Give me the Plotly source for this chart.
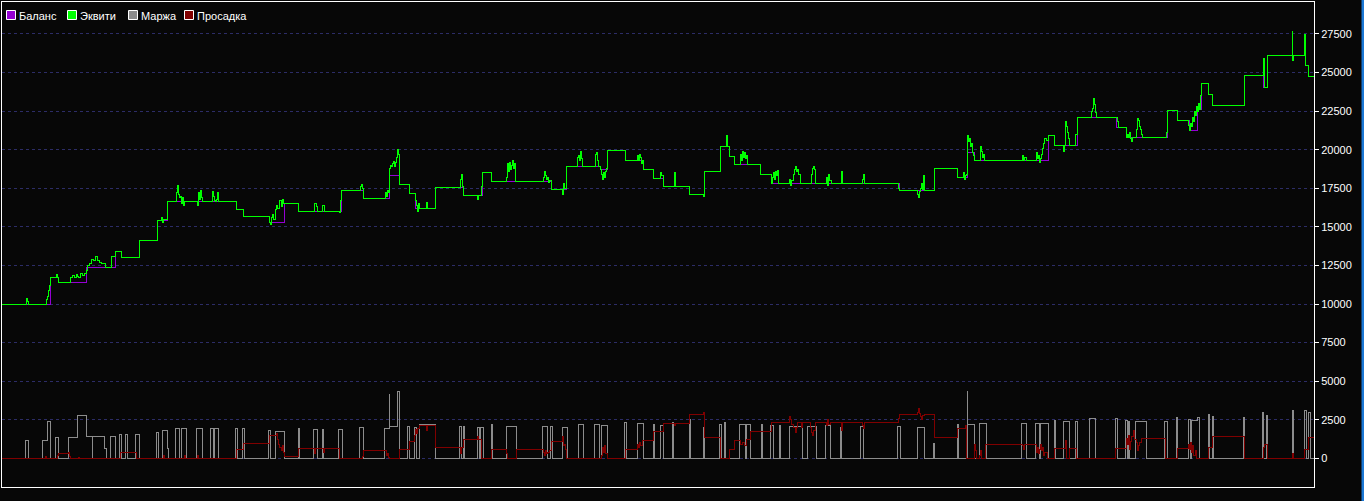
import plotly.graph_objects as go

# ---------------- data ----------------
series_names = ["Баланс", "Эквити", "Маржа", "Просадка"]
series_colors = ["#9400d3", "#00ff00", "#8c8c8c", "#800000"]

balance_pts = [(2,10000),(50,11750),(58,11400),(86,12380),(115,13400),(121,13030),(139,14140),(157,15390),
(167,16650),(236,16150),(243,15700),(269,15260),(284,16540),(298,16020),(341,17380),(363,16860),(389,18360),
(399,17770),(409,17190),(415,16220),(435,17580),(463,17060),(482,18550),(491,17970),(551,17450),(566,18940),
(600,18700),(607,19920),(625,19330),(643,18750),(653,18160),(663,17640),(689,17120),(704,18570),(720,20180),
(729,19590),(734,19010),(760,18420),(771,17840),(899,17340),(934,18810),(957,18230),(967,19790),(974,19270),
(1048,20950),(1054,20300),(1077,22060),(1116,21410),(1126,20760),(1167,22510),(1177,21870),(1189,21220),
(1197,22600),(1201,24280),(1208,23560),(1212,22840),(1244,24790),(1263,24010),(1267,26090),(1305,25480),
(1308,24720),(1314,24720)]

equity_pts = [(2,10000),(25,10000),(26,10350),(27,10150),(28,10000),
(44,10000),(45,9950),(46,10300),(47,10500),(48,10900),(49,11200),(50,11750),(55,11750),(56,11900),(57,11700),(58,11400),
(69,11400),(70,11700),(72,11850),(74,11750),(76,11900),(77,11800),(78,11700),(80,11950),(82,11850),(84,12000),(86,12200),
(87,12500),(89,12650),(91,12900),(93,12800),(95,13050),(97,12800),(99,12700),(101,12600),(103,12650),(105,12380),(111,13070),
(115,13400),(121,13030),(139,14140),(157,15390),(161,15600),(162,15300),(163,15500),(167,16650),
(175,16650),(176,17200),(177,17700),(178,17100),(179,16900),(180,17000),(181,16500),(182,16900),(183,16400),(184,16650),
(196,16650),(197,16400),(198,17200),(199,16800),(200,17350),(201,16900),(202,16650),
(211,16650),(212,17300),(213,17000),(214,16700),(215,16650),(216,16800),(217,17250),(218,16650),
(236,16150),(243,15700),(269,15260),(270,15150),(271,15600),(272,15800),(273,15500),(275,16100),(276,16400),(277,16200),
(279,16700),(281,16300),(282,16800),(283,16500),(284,16540),(298,16020),
(313,16020),(314,16540),(316,16300),(317,16020),(322,16400),(324,16020),(338,16020),(339,15900),(340,16700),(341,17380),
(359,17380),(360,17600),(361,17750),(362,17500),(363,16860),
(384,16860),(385,17200),(386,17000),(387,17350),(388,17200),(389,18800),(390,19000),(391,18900),(392,19100),(393,19250),
(394,18900),(395,19200),(396,19500),(397,20000),(398,19700),(399,17770),(409,17190),(415,16700),(416,16400),(417,16000),
(418,16500),(419,16220),(425,16220),(426,16600),(427,16220),(435,17580),(459,17580),(460,18100),(461,18380),(462,17600),
(463,17060),(476,17060),(477,16800),(478,17060),(481,17600),(482,18550),(491,17970),
(505,17970),(506,18200),(507,19100),(508,18600),(509,19200),(510,18700),(511,19000),(512,19300),(513,18800),(514,19100),(515,17970),
(542,17970),(543,18200),(544,18600),(545,18300),(546,18100),(547,18200),(548,17900),(549,18000),(551,17450),(561,17450),
(562,17100),(563,17800),(564,17500),(566,18940),
(576,18940),(577,19500),(578,19600),(579,19300),(580,19900),(581,19400),(582,18940),(594,18940),(595,19700),(596,19800),
(597,19300),(598,18940),(600,18700),(601,18400),(602,18100),(603,18500),(604,18200),(605,18600),(606,18800),(607,19920),(625,19330),
(636,19330),(637,19600),(638,19300),(639,19700),(640,19500),(641,19100),(642,19330),(643,18750),(653,18160),(659,18160),
(660,18500),(661,18300),(663,17640),(673,17640),(674,18500),(675,17640),(689,17120),(702,17120),(703,16950),(704,18570),
(720,20180),(725,20180),(726,20900),(727,20180),(729,19590),(734,19010),
(739,19010),(740,19700),(741,19300),(742,19900),(743,19500),(744,19800),(745,19400),(746,19600),(747,19010),(760,18420),
(771,17840),(772,18200),(773,18500),(774,18100),(775,18600),(776,18300),(777,18650),(778,17840),
(788,17840),(789,18100),(790,17700),(791,18000),(793,18400),(794,18700),(795,18900),(796,18600),(797,18700),(798,18400),(800,17840),
(810,17840),(811,18400),(812,18800),(813,18900),(814,18700),(815,17840),
(825,17840),(826,18200),(827,17700),(828,18400),(829,18000),(831,17840),
(840,17840),(841,18600),(842,17840),(861,17840),(862,18100),(863,18400),(864,17840),
(897,17840),(898,17500),(899,17340),(916,17340),(917,17100),(918,16900),(919,17300),(920,17500),(921,17800),(922,17400),
(923,18300),(924,17340),(934,18810),(957,18230),
(962,18230),(963,18500),(964,18100),(965,18300),(966,18400),(967,20900),(968,20500),(969,20700),(970,20200),(971,20400),
(972,19800),(973,19600),(974,19270),
(979,19270),(980,20200),(981,19900),(982,19500),(983,19700),(984,19300),(986,19270),
(1021,19270),(1022,19600),(1023,19300),(1024,19500),(1026,19270),
(1035,19270),(1036,19800),(1037,19400),(1038,19600),(1039,19200),(1040,19400),(1041,19700),(1042,20100),(1043,20400),
(1044,20700),(1046,20600),(1048,20950),(1054,20300),
(1062,20300),(1063,19870),(1064,20300),(1065,21800),(1066,21500),(1067,21100),(1068,20700),(1069,20300),(1075,21000),(1077,22060),
(1090,22060),(1091,22500),(1092,22700),(1093,23300),(1094,22900),(1095,22400),(1096,22060),(1116,22060),(1117,21800),
(1118,21410),(1126,20760),
(1127,21000),(1128,20800),(1129,21100),(1130,20700),(1131,20500),(1132,20760),
(1135,20760),(1136,21300),(1137,22000),(1138,21900),(1139,21500),(1140,21300),(1141,21000),(1142,20800),(1143,20760),
(1165,20760),(1166,21100),(1167,22510),(1177,21870),(1187,21870),(1188,21600),(1189,21220),
(1190,21700),(1191,21500),(1192,22100),(1193,21800),(1194,22500),(1195,22200),(1196,22800),(1197,22500),(1198,23000),
(1199,22600),(1200,23500),(1201,24280),(1208,23560),(1212,22840),
(1243,22840),(1244,24790),(1262,24790),(1263,25890),(1264,24010),(1267,26090),
(1291,26090),(1292,27650),(1292.5,25800),(1293,26090),(1304,27470),(1305,25480),(1308,24720),(1314,24720)]

# margin blocks: (start, end, value)
margin_blocks = [(25,28,1170),(42,47,1170),(47,50,2400),(55,58,1360),(68,77,1360),(77,86,2750),(86,92,1430),
(92.3,104,1430),(104,106,650),(110,115,1430),(119,121,1560),(125,127,1560),(135,139,1560),(156,158,1690),
(162,167,1820),(167,168,650),(175,179,1950),(181,186,1950),(196,202,1950),(210,213,1950),(214,218,1950),
(235,237,1950),(242,244,1950),(268,270,1820),(275,284,1750),(298,299,1950),(313,317,1880),(322,323,1880),
(338,342,1880),(359,363,2010),(384,389,1950),(389,389.6,4110),(389.6,397,2080),(397,399,4350),(407,409,2080),
(414,416,2010),(419,435,2160),(459,461,2080),(463,464,2080),(477,479,2010),(480,483,2010),(491,492,2160),
(506,516,2080),(542,547,2080),(550,552,2080),(562,567,2010),(578,583,2200),(594,599,2200),(601,607,2150),
(624,626,2340),(637,643,2270),(653,654,2200),(660,663,2150),(672,673,2340),(689,690,2530),(703,704,2010),
(719,721,2200),(724,725,2340),(739,745,2200),(746,750,2200),(761,762,2200),(770,773,2150),(779,780,2150),
(789,802,2080),(807,816,2080),(825,830,2150),(840,841,2000),(860,863,2080),(897,900,2080),(917,924,2010),
(933,934,970),(957,958,2200),(967,967.6,4350),(967.6,974,2200),(979,986,2270),(1021,1026,2270),(1035,1039,2270),
(1040,1048,2270),(1054,1055,2470),(1063,1069,2400),(1075,1077,2400),(1089,1095,2600),(1115,1117,2600),
(1125,1127,2470),(1128,1129,2400),(1135,1146,2400),(1164,1167,2400),(1176,1177,2660),(1188,1190,2530),
(1191,1197,2470),(1197,1199,2660),(1208,1209,2860),(1212,1213,2730),(1243,1244,2660),(1262,1263,2940),
(1266,1267,2800),(1292,1293,3070),(1304,1306,3070),(1308,1310,3000)]

drawdown_pts = [(2,0),(44,0),(45,100),(46,0),(56,0),(57,200),(58,340),(68,400),(69,100),(70,0),(78,80),(79,0),
(119,0),(120,390),(136,0),(162,0),(163,200),(164,0),(183,0),(184,150),(185,0),(196,0),(197,150),(198,0),(236,540),
(243,970),(269,1510),(276,1600),(277,1200),(278,900),(279,700),(281,500),(282,800),(283,400),(284,130),(298,650),
(313,650),(314,300),(315,650),(322,650),(323,350),(324,650),(339,0),(361,0),(362,100),(363,520),(385,520),(386,200),
(387,300),(388,50),(389,0),(399,580),(409,1120),(414,1500),(415,1840),(416,1600),(417,1900),(419,2140),(425,2140),
(426,1800),(427,2140),(435,710),(459,710),(460,300),(461,710),(463,1230),(476,1230),(477,1400),(478,1230),(481,0),
(491,580),(505,580),(506,300),(507,0),(516,580),(542,580),(543,400),(544,200),(545,500),(546,300),(547,400),(549,500),
(551,1100),(561,1100),(562,1400),(563,800),(564,900),(565,600),(566,0),(600,0),(601,200),(602,700),(603,400),
(604,800),(605,300),(607,0),(625,580),(636,580),(637,900),(638,700),(639,1000),(640,800),(642,1170),(653,1750),
(663,2270),(673,2270),(674,2100),(675,2270),(689,2810),(702,2810),(703,3000),(704,1360),(720,0),(729,580),(734,1170),
(739,1170),(740,900),(742,1000),(744,800),(746,1200),(750,1750),(771,2340),(788,2340),(789,2700),(790,2500),
(791,2200),(793,2000),(795,1700),(796,2000),(797,2340),(800,2340),(801,2000),(802,2340),(809,2340),(810,2000),
(811,1700),(812,1500),(813,1800),(815,2340),(825,2340),(826,2100),(827,2500),(828,2200),(830,2340),(840,2340),
(841,1800),(842,2340),(861,2340),(862,2100),(863,1900),(864,2340),(897,2340),(898,2600),(899,2860),(916,2860),
(917,3000),(918,3250),(919,2900),(920,2700),(921,2500),(922,2800),(924,2860),(934,1360),(957,1950),(965,2100),
(966,0),(973,0),(974,900),(975,500),(976,0),(979,200),(980,500),(981,0),(985,910),(1021,910),(1022,800),(1023,600),
(1024,910),(1035,910),(1036,400),(1037,700),(1038,300),(1039,600),(1040,900),(1041,500),(1042,700),(1043,200),
(1044,400),(1047,0),(1054,650),(1064,650),(1065,1150),(1066,0),(1069,650),(1076,0),(1115,650),(1126,1300),
(1127,900),(1128,1500),(1129,600),(1130,1100),(1131,1400),(1133,1800),(1134,1200),(1136,1000),(1137,500),(1138,800),
(1139,1000),(1141,1300),(1165,0),(1177,650),(1188,910),(1189,600),(1190,1000),(1191,400),(1192,800),(1193,200),
(1195,500),(1196,0),(1208,710),(1212,1430),(1244,0),(1263,710),(1264,900),(1267,0),(1292,320),(1293,0),(1304,600),
(1306,600),(1308,1340),(1314,1340)]

y_tick_step = 2500

# ---------------- build traces ----------------
def unzip(pts):
    return [p[0] for p in pts], [p[1] for p in pts]

bal_x, bal_y = unzip(balance_pts)
eq_x, eq_y = unzip(equity_pts)
dd_x, dd_y = unzip(drawdown_pts)

mg_x, mg_y = [2], [0]
for i, (a, b, v) in enumerate(margin_blocks):
    mg_x.append(a); mg_y.append(v)
    nxt = margin_blocks[i + 1][0] if i + 1 < len(margin_blocks) else None
    if nxt != b:
        mg_x.append(b); mg_y.append(0)
mg_x.append(1314); mg_y.append(0)

fig = go.Figure()
fig.add_trace(go.Scatter(x=mg_x, y=mg_y, mode="lines", line=dict(color=series_colors[2], width=1, shape="hv"),
                         name=series_names[2], showlegend=False, hoverinfo="skip"))
fig.add_trace(go.Scatter(x=dd_x, y=dd_y, mode="lines", line=dict(color=series_colors[3], width=1, shape="hv"),
                         name=series_names[3], showlegend=False, hoverinfo="skip"))
fig.add_trace(go.Scatter(x=bal_x, y=bal_y, mode="lines", line=dict(color=series_colors[0], width=1, shape="hv"),
                         name=series_names[0], showlegend=False, hoverinfo="skip"))
fig.add_trace(go.Scatter(x=eq_x, y=eq_y, mode="lines", line=dict(color=series_colors[1], width=1, shape="hv"),
                         name=series_names[1], showlegend=False, hoverinfo="skip"))

# ---------------- layout ----------------
W, H = 1364, 501
L, R, T, B = 2, 50, 2, 14
pw, ph = W - L - R, H - T - B

def px(x):
    return (x - L) / pw

def py(y):
    return (H - B - y) / ph

shapes, annotations = [], []
legend_x = [6, 67, 128, 184]
for name, col, lx in zip(series_names, series_colors, legend_x):
    shapes.append(dict(type="rect", xref="paper", yref="paper", x0=px(lx + 0.5), x1=px(lx + 9.5),
                       y0=py(19.5), y1=py(10.5), fillcolor=col, line=dict(color="white", width=1)))
    annotations.append(dict(xref="paper", yref="paper", x=px(lx + 12), y=py(15.5), text=name, showarrow=False,
                            xanchor="left", yanchor="middle", font=dict(color="white", size=11,
                            family="Liberation Sans, Arial, sans-serif"), borderpad=0))
# blue edge at the right of the window
shapes.append(dict(type="rect", xref="paper", yref="paper", x0=px(1361.5), x1=px(1365), y0=py(502), y1=py(-1),
                   fillcolor="#1c78d4", line=dict(width=0), layer="above"))

fig.update_layout(
    width=W, height=H,
    margin=dict(l=L, r=R, t=T, b=B, pad=0),
    paper_bgcolor="#070707", plot_bgcolor="#070707",
    showlegend=False,
    shapes=shapes, annotations=annotations,
    xaxis=dict(range=[2, 1314], showgrid=False, zeroline=False, showticklabels=False, ticks="",
               showline=True, mirror=True, linecolor="white", linewidth=1, fixedrange=True),
    yaxis=dict(side="right", range=[-1860, 29573], tickmode="linear", tick0=0, dtick=y_tick_step,
               tickformat="d", ticks="outside", ticklen=4, tickcolor="white", tickwidth=1,
               tickfont=dict(color="white", size=11, family="Liberation Sans, Arial, sans-serif"),
               showgrid=True, gridcolor="#2c2c66", griddash="3px,3px", gridwidth=1, zeroline=False,
               showline=True, mirror=True, linecolor="white", linewidth=1, fixedrange=True),
)

post = ("document.body.style.margin='0';document.body.style.overflow='hidden';"
        "var s=document.createElement('style');s.innerHTML='.scatterlayer path{shape-rendering:crispEdges}';"
        "document.head.appendChild(s);")
fig.write_html("out.html", post_script=post, config={"displayModeBar": False})
